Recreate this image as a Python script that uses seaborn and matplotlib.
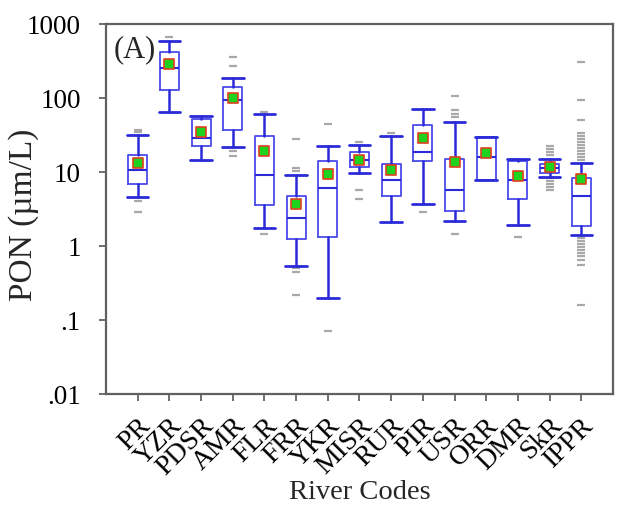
import matplotlib
matplotlib.use("Agg")
import matplotlib.pyplot as plt
import seaborn as sns
import pandas as pd
import numpy as np

# ---------------- data ----------------
rivers = ["PR", "YZR", "PDSR", "AMR", "FLR", "FRR", "YKR", "MISR",
          "RUR", "PIR", "USR", "ORR", "DMR", "SkR", "IPPR"]
whisker_low = [4.6, 65, 14.4, 22, 1.73, 0.54, 0.20, 9.7, 2.1, 3.72, 2.15, 7.73, 1.95, 8.67, 1.39]
q1 = [6.8, 130, 22.5, 36.9, 3.56, 1.24, 1.31, 11.5, 4.73, 13.9, 2.99, 7.73, 4.31, 9.8, 1.88]
median = [10.8, 255, 29.1, 94.6, 9.2, 2.41, 6.1, 14.3, 7.73, 18.7, 5.74, 16.1, 7.83, 11.4, 4.76]
q3 = [17.2, 416, 52.5, 142, 30.5, 4.73, 14.1, 18.8, 12.7, 42.6, 15.0, 29.7, 13.9, 12.7, 8.32]
whisker_high = [31.3, 585, 56.3, 187, 61.3, 9.03, 22.2, 23.2, 30.3, 71.5, 47.8, 29.7, 15.2, 15.2, 13.3]
means = [13.4, 286, 34.3, 100.7, 19.2, 3.75, 9.43, 14.7, 10.8, 28.8, 13.7, 17.9, 8.86, 11.5, 7.97]

outliers = {
    "PR": [37, 35, 4.0, 2.84],
    "YZR": [662],
    "AMR": [362, 269, 19.2, 16.6],
    "FLR": [63.8, 1.43],
    "FRR": [27.6, 11.2, 10.4, 0.50, 0.44, 0.216],
    "YKR": [44, 0.0713],
    "MISR": [25.1, 5.7, 4.34],
    "RUR": [34],
    "PIR": [2.86],
    "USR": [105, 67.9, 61.3, 55.3, 1.43],
    "DMR": [1.32],
    "SkR": [22.7, 20.7, 18.8, 17.2, 8.4, 7.66, 6.98, 6.36, 5.66],
    "IPPR": [310, 94.6, 49.8, 34.0, 31.0, 28.2, 25.7, 23.4, 21.3, 19.4, 17.7,
             16.1, 14.7, 1.27, 1.15, 1.05, 0.957, 0.873, 0.795, 0.724, 0.64,
             0.553, 0.16],
}

yticks = [0.01, 0.1, 1, 10, 100, 1000]
ytick_labels = [".01", ".1", "1", "10", "100", "1000"]

# ---------------- style ----------------
sns.set_theme(style="white")
plt.rcParams["font.family"] = ["Liberation Serif", "DejaVu Serif"]

fig = plt.figure(figsize=(6.37, 5.06), dpi=100)
ax = fig.add_axes([0.1664, 0.2194, 0.7959, 0.7312])

pos = {r: i for i, r in enumerate(rivers)}

stats = []
for i, r in enumerate(rivers):
    stats.append(dict(label=r, whislo=whisker_low[i], q1=q1[i], med=median[i],
                      q3=q3[i], whishi=whisker_high[i], fliers=[]))

box_blue = "#4b4bea"
whisk_blue = "#2a2ad8"
ax.bxp(stats, positions=list(range(len(rivers))), widths=0.6, capwidths=0.68,
       showfliers=False, patch_artist=False,
       boxprops=dict(color=box_blue, linewidth=1.3),
       medianprops=dict(color=whisk_blue, linewidth=1.5),
       whiskerprops=dict(color=whisk_blue, linewidth=1.8),
       capprops=dict(color=whisk_blue, linewidth=2.0))

# outliers as grey dashes
out_df = pd.DataFrame([(pos[r], v) for r, vals in outliers.items() for v in vals],
                      columns=["x", "value"])
sns.scatterplot(data=out_df, x="x", y="value", marker="_", s=40, color="#a8a8a8",
                linewidth=1.6, ax=ax, zorder=1, legend=False)

# means as green squares with red edge
mean_df = pd.DataFrame({"x": [pos[r] for r in rivers], "value": means})
sns.scatterplot(data=mean_df, x="x", y="value", marker="s", s=42,
                color="#1ed21e", edgecolor="#e0401e", linewidth=1.2,
                ax=ax, zorder=5, legend=False)

ax.set_yscale("log")
ax.set_ylim(0.01, 1000)
ax.set_xlim(-1, len(rivers))
ax.set_yticks(yticks)
ax.set_yticklabels(ytick_labels)
ax.yaxis.set_minor_locator(matplotlib.ticker.NullLocator())
ax.set_xticks(range(len(rivers)))
ax.set_xticklabels(rivers, rotation=45, ha="right", rotation_mode="anchor")

ax.tick_params(axis="both", which="major", direction="out", length=5, width=1.2,
               color="#555555", labelcolor="black")
ax.tick_params(axis="y", labelsize=19.5, pad=13)
ax.tick_params(axis="x", labelsize=20, pad=8)
ax.tick_params(left=True, bottom=True)

for s in ax.spines.values():
    s.set_color("#606060")
    s.set_linewidth(1.6)

ax.set_xlabel("River Codes", fontsize=20.5, labelpad=0)
ax.set_ylabel("PON (µm/L)", fontsize=24)
ax.yaxis.set_label_coords(-0.132, 0.486)
ax.text(0.015, 0.972, "(A)", transform=ax.transAxes, fontsize=22,
        ha="left", va="top")

fig.savefig("out.png", dpi=100)
